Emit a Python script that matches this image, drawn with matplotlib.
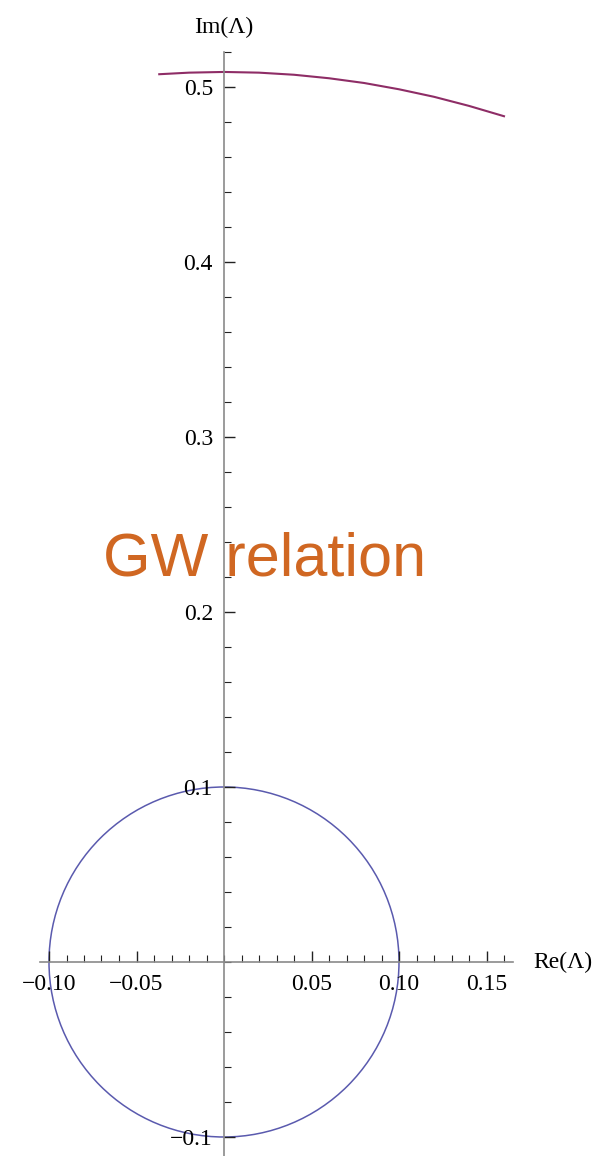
import numpy as np
import matplotlib.pyplot as plt
from matplotlib.patches import Circle
from matplotlib.ticker import FixedLocator, FuncFormatter

#------------- Data -----------------#
# upper branch of the GW relation, Re(Lambda) vs Im(Lambda)
re_branch = [-0.037, -0.02, 0.0, 0.02, 0.04, 0.06, 0.08, 0.10, 0.12, 0.14, 0.16]
im_branch = [0.5073, 0.5082, 0.5086, 0.5082, 0.5070, 0.5050, 0.5023, 0.4987, 0.4944, 0.4892, 0.4833]

# circle |Lambda| = 0.1
circle_center = (0.0, 0.0)
circle_radius = 0.1

x_major_ticks = [-0.10, -0.05, 0.05, 0.10, 0.15]
x_minor_ticks = np.round(np.arange(-0.10, 0.161, 0.01), 2)
y_major_ticks = [-0.1, 0.1, 0.2, 0.3, 0.4, 0.5]
y_minor_ticks = np.round(np.arange(-0.10, 0.521, 0.02), 2)

#------------- Figure -----------------#
plt.rcParams['font.family'] = ['Liberation Serif', 'DejaVu Serif']
W, H, dpi = 596, 1156, 100
fig = plt.figure(figsize=(W / dpi, H / dpi), dpi=dpi)
ax = fig.add_axes([0, 0, 1, 1])

scale = 1750.0          # pixels per data unit, same on both axes
x0_pix, y0_pix = 224, 962
ax.set_xlim(-x0_pix / scale, (W - x0_pix) / scale)
ax.set_ylim(-(H - y0_pix) / scale, y0_pix / scale)
ax.patch.set_alpha(0)

ax.add_patch(Circle(circle_center, circle_radius, fill=False, color='#5a5aae', lw=1.1))
ax.plot(re_branch, im_branch, color='#8e2d66', lw=1.5)

ax.text(-0.069, 0.221, 'GW relation', color='#d06722', fontsize=44,
        family=['Liberation Sans', 'DejaVu Sans'], ha='left', va='baseline')

#------------- Axes through the origin ----------------#
for side in ['top', 'right']:
    ax.spines[side].set_visible(False)
ax.spines['left'].set_position(('data', 0))
ax.spines['bottom'].set_position(('data', 0))
ax.spines['left'].set_bounds(-0.12, 0.52)
ax.spines['bottom'].set_bounds(-0.105, 0.165)
for side in ['left', 'bottom']:
    ax.spines[side].set_color('#8a8a8a')
    ax.spines[side].set_linewidth(1.2)

ax.xaxis.set_major_locator(FixedLocator(x_major_ticks))
ax.xaxis.set_minor_locator(FixedLocator(x_minor_ticks))
ax.yaxis.set_major_locator(FixedLocator(y_major_ticks))
ax.yaxis.set_minor_locator(FixedLocator(y_minor_ticks))

def fmt_x(v, pos):
    return f'{v:.2f}'.replace('-', '\u2212')

def fmt_y(v, pos):
    return f'{v:.1f}'.replace('-', '\u2212')

ax.xaxis.set_major_formatter(FuncFormatter(fmt_x))
ax.yaxis.set_major_formatter(FuncFormatter(fmt_y))

ax.tick_params(which='both', direction='in', color='#222222', labelsize=17)
ax.tick_params(which='major', length=8, width=1.0)
ax.tick_params(which='minor', length=5, width=0.8)
ax.tick_params(axis='x', pad=9)
ax.tick_params(axis='y', pad=8)

ax.text(0.0, 0.528, 'Im(\u039b)', fontsize=17, ha='center', va='bottom')
ax.text(0.177, 0.0, 'Re(\u039b)', fontsize=17, ha='left', va='center')

plt.savefig('out.png', dpi=dpi)
